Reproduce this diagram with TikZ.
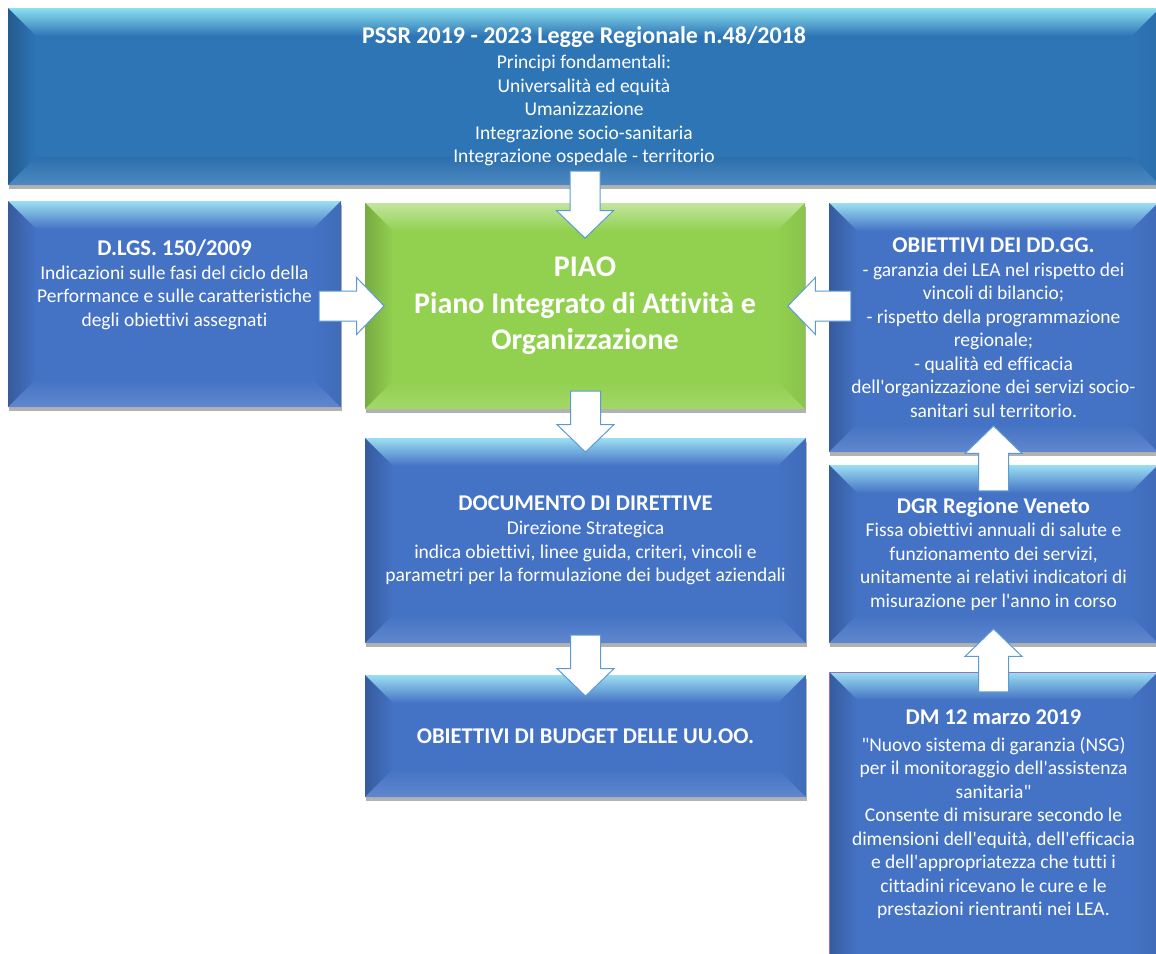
\documentclass[tikz,border=0pt]{standalone}
\usepackage{fontspec}
\setmainfont{Carlito}[Ligatures=NoCommon]
\usepackage{tikz}
\usetikzlibrary{positioning,shapes.arrows,shadows}
\definecolor{boxblue}{RGB}{68,114,196}
\definecolor{topblue}{RGB}{46,117,182}
\definecolor{piaogreen}{RGB}{146,208,80}
\definecolor{arrowline}{RGB}{91,155,213}
\definecolor{dmedge}{RGB}{112,48,160}
\newcommand{\txtbody}{\fontsize{19.5pt}{23.5pt}\selectfont}
\newcommand{\boxtitle}[1]{{\fontsize{22.5pt}{24pt}\selectfont\bfseries #1}}

\begin{document}
\begin{tikzpicture}[x=1pt,y=1pt,
  bevel/.style n args={4}{path picture={
    \coordinate (nw) at (path picture bounding box.north west);
    \coordinate (ne) at (path picture bounding box.north east);
    \coordinate (sw) at (path picture bounding box.south west);
    \coordinate (se) at (path picture bounding box.south east);
    \shade[#1] (nw) -- (ne) -- ([shift={(-28pt,-28pt)}]ne) -- ([shift={(28pt,-28pt)}]nw) -- cycle;
    \shade[#2] (nw) -- ([shift={(28pt,-28pt)}]nw) -- ([shift={(28pt,28pt)}]sw) -- (sw) -- cycle;
    \shade[#3] (sw) -- ([shift={(28pt,28pt)}]sw) -- ([shift={(-28pt,28pt)}]se) -- (se) -- cycle;
    \shade[#4] (ne) -- ([shift={(-28pt,-28pt)}]ne) -- ([shift={(-28pt,28pt)}]se) -- (se) -- cycle;
  }},
  basebox/.style={inner sep=0pt, text=white, align=center, font=\txtbody,
    drop shadow={shadow xshift=1pt, shadow yshift=-4pt, opacity=0.3, fill=black}},
  bluebox/.style={basebox, fill=boxblue,
    bevel={top color=boxblue!50!cyan!45!white, bottom color=boxblue}
          {left color=boxblue!80!black, right color=boxblue}
          {top color=boxblue, bottom color=boxblue!85!white}
          {left color=boxblue, right color=boxblue!94!black}},
  topbox/.style={basebox, fill=topblue,
    bevel={top color=topblue!45!cyan!50!white, bottom color=topblue}
          {left color=topblue!78!black, right color=topblue}
          {top color=topblue!95!black, bottom color=topblue!85!white}
          {left color=topblue, right color=topblue!94!black}},
  greenbox/.style={basebox, fill=piaogreen,
    bevel={top color=piaogreen!55!white, bottom color=piaogreen}
          {left color=piaogreen!82!black, right color=piaogreen}
          {top color=piaogreen, bottom color=piaogreen!85!white}
          {left color=piaogreen, right color=piaogreen!94!black}},
  boxtext/.style={inner sep=0pt, text=white, align=center, font=\txtbody},
  blkarrow/.style={single arrow, draw=arrowline, fill=white, line width=1pt,
    inner xsep=0pt, inner ysep=14.5pt, minimum width=56pt,
    single arrow head extend=13.5pt, single arrow tip angle=92}]

\useasboundingbox (0,0) rectangle (1156,-953);

% boxes
\node[topbox, minimum width=1152pt, minimum height=177pt] (pssr) at (584,-96.5)
  {{\fontsize{24pt}{26pt}\selectfont\bfseries PSSR 2019 - 2023 Legge Regionale n.48/2018}\\[2pt]
   Principi fondamentali:\\ Universalità ed equità\\ Umanizzazione\\
   Integrazione socio-sanitaria\\ Integrazione ospedale - territorio};

\node[bluebox, minimum width=333pt, minimum height=206pt] (dlgs) at (174.5,-304) {};
\node[boxtext, below=39pt of dlgs.north] (dlgs-txt)
  {\boxtitle{D.LGS. 150/2009}\\ Indicazioni sulle fasi del ciclo della\\
   Performance e sulle caratteristiche\\ degli obiettivi assegnati};

\node[greenbox, minimum width=440pt, minimum height=206pt,
  font=\fontsize{30pt}{36.5pt}\selectfont\bfseries] (piao) at (585,-306)
  {PIAO\\ Piano Integrato di Attività e\\ Organizzazione};

\node[bluebox, minimum width=329pt, minimum height=249pt] (ddgg) at (993.5,-327.5)
  {\boxtitle{OBIETTIVI DEI DD.GG.}\\ - garanzia dei LEA nel rispetto dei\\
   vincoli di bilancio;\\ - rispetto della programmazione\\ regionale;\\
   - qualità ed efficacia\\ dell\textquotesingle organizzazione dei servizi socio-\\
   sanitari sul territorio.};

\node[bluebox, minimum width=441pt, minimum height=205pt] (doc) at (585.5,-540.5)
  {\boxtitle{DOCUMENTO DI DIRETTIVE}\\[1pt] Direzione Strategica\\
   indica obiettivi, linee guida, criteri, vincoli e\\
   parametri per la formulazione dei budget aziendali};

\node[bluebox, minimum width=441pt, minimum height=122pt] (bud) at (585.5,-736)
  {\boxtitle{OBIETTIVI DI BUDGET DELLE UU.OO.}};

\node[bluebox, minimum width=329pt, minimum height=178pt] (dgr) at (993.5,-554)
  {\boxtitle{DGR Regione Veneto}\\ Fissa obiettivi annuali di salute e\\
   funzionamento dei servizi,\\ unitamente ai relativi indicatori di\\
   misurazione per l\textquotesingle anno in corso};

\node[bluebox, draw=dmedge!70, line width=0.8pt, minimum width=329pt, minimum height=318pt] (dm) at (993.5,-831) {};
\node[boxtext, below=38pt of dm.north] (dm-txt)
  {\boxtitle{DM 12 marzo 2019}\\[3pt] \textquotedbl Nuovo sistema di garanzia (NSG)\\
   per il monitoraggio dell\textquotesingle assistenza\\ sanitaria\textquotedbl\\
   Consente di misurare secondo le\\ dimensioni dell\textquotesingle equità, dell\textquotesingle efficacia\\
   e dell\textquotesingle appropriatezza che tutti i\\ cittadini ricevano le cure e le\\
   prestazioni rientranti nei LEA.};

% block arrows
\node[blkarrow, rotate=-90, anchor=tip, minimum height=67pt] (arTop) at ([yshift=-36pt]piao.north) {};
\node[blkarrow, anchor=tip, minimum height=65pt] (arLeft) at ([xshift=20pt]piao.west) {};
\node[blkarrow, rotate=180, anchor=tip, minimum height=63pt] (arRight) at ([xshift=-18pt]piao.east) {};
\node[blkarrow, rotate=-90, anchor=tip, minimum height=61pt] (arDoc) at ([yshift=-15pt]doc.north) {};
\node[blkarrow, rotate=-90, anchor=tip, minimum height=61pt] (arBud) at ([yshift=-22pt]bud.north) {};
\node[blkarrow, rotate=90, anchor=tip, minimum height=65pt] (arDgr) at ([yshift=27pt]ddgg.south) {};
\node[blkarrow, rotate=90, anchor=tip, minimum height=63pt] (arDm) at ([yshift=15pt]dgr.south) {};
\end{tikzpicture}
\end{document}
